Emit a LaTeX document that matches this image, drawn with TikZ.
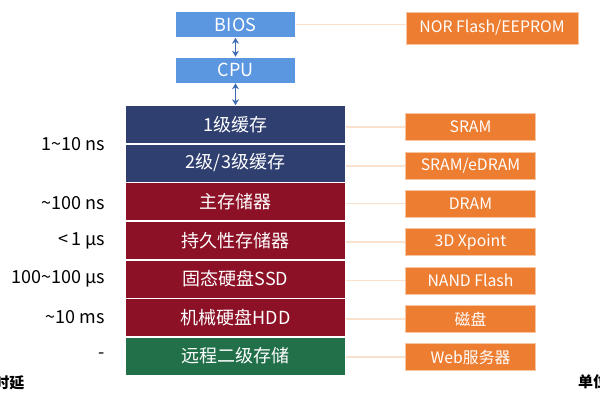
\documentclass[tikz,border=0pt]{standalone}
\usepackage{fontspec}
\setmainfont{Noto Sans CJK SC}
\usepackage{tikz}
\usetikzlibrary{positioning,calc,arrows.meta}
\definecolor{chipblue}{HTML}{5B97E1}
\definecolor{arrowblue}{HTML}{3E6DB5}
\definecolor{cachenavy}{HTML}{2F3F70}
\definecolor{memred}{HTML}{8C1126}
\definecolor{remotegreen}{HTML}{22704A}
\definecolor{techorange}{HTML}{ED7D31}
\definecolor{linkpeach}{HTML}{FBE0CC}

\begin{document}
\begin{tikzpicture}[
    x=1pt, y=-1pt,
    >={Stealth[length=6pt,width=7pt]},
    font=\fontsize{18}{21}\selectfont,
    chip/.style={
        fill=chipblue,
        draw=white,
        line width=0.6pt,
        minimum width=120pt,
        minimum height=26pt,
        inner sep=0pt,
        text=white
    },
    level/.style={
        draw=white,
        line width=0.6pt,
        minimum width=220pt,
        minimum height=38pt,
        inner sep=0pt,
        text=white
    },
    tech/.style={
        fill=techorange,
        draw=techorange!45!white,
        line width=0.8pt,
        minimum width=130pt,
        minimum height=27pt,
        inner sep=0pt,
        text=white,
        font=\fontsize{15.8}{18}\selectfont
    },
    lat/.style={anchor=east, inner sep=0pt},
    link/.style={draw=linkpeach, line width=1.5pt},
    arr/.style={<->, draw=arrowblue, line width=1.8pt}
]
\useasboundingbox (0,0) rectangle (600,400);

\node[chip] (bios) at (235.5,24.5) {BIOS};
\node[chip] (cpu) at (235.5,70) {CPU};

% memory stack
\node[level, fill=cachenavy] (l1) at (235.5,124.5) {1级缓存};
\node[level, fill=cachenavy] (l2) at (235.5,163) {2级/3级缓存};
\node[level, fill=memred] (dram) at (235.5,201.7) {主存储器};
\node[level, fill=memred] (pmem) at (235.5,240.3) {持久性存储器};
\node[level, fill=memred] (ssd) at (235.5,278.9) {固态硬盘SSD};
\node[level, fill=memred] (hdd) at (235.5,317.5) {机械硬盘HDD};
\node[level, fill=remotegreen] (remote) at (235.5,356.1) {远程二级存储};

\draw[arr] (bios.south) -- (cpu.north);
\draw[arr] (cpu.south) -- (l1.north);

% technologies
\node[tech, minimum width=172pt, minimum height=32pt] (nor) at (492,28) {NOR Flash/EEPROM};
\node[tech] (sram) at (470.5,127) {SRAM};
\node[tech] (edram) at (470.5,166) {SRAM/eDRAM};
\node[tech] (dramtech) at (470.5,203.5) {DRAM};
\node[tech] (xpoint) at (470.5,242) {3D Xpoint};
\node[tech] (nand) at (470.5,280.5) {NAND Flash};
\node[tech] (disk) at (470.5,319) {磁盘};
\node[tech] (web) at (470.5,357) {Web服务器};

\draw[link] (bios.east) -- (bios.east -| nor.west);
\draw[link] (sram.west -| l1.east) -- (sram.west);
\draw[link] (edram.west -| l2.east) -- (edram.west);
\draw[link] (dramtech.west -| dram.east) -- (dramtech.west);
\draw[link] (xpoint.west -| pmem.east) -- (xpoint.west);
\draw[link] (nand.west -| ssd.east) -- (nand.west);
\draw[link] (disk.west -| hdd.east) -- (disk.west);
\draw[link] (web.west -| remote.east) -- (web.west);

% latencies
\node[lat] (lat1) at (105,144) {1\textasciitilde10 ns};
\node[lat] (lat2) at (105,203) {\textasciitilde100 ns};
\node[lat] (lat3) at (105,241) {<\,1 µs};
\node[lat] (lat4) at (105,279) {100\textasciitilde100 µs};
\node[lat] (lat5) at (105,317) {\textasciitilde10 ms};
\node[lat] (lat6) at (105,356) {-};

\node[anchor=east, inner sep=0pt, font=\fontsize{15}{18}\selectfont\bfseries] (latcap) at (24.5,383) {时延};
\node[anchor=west, inner sep=0pt, font=\fontsize{15}{18}\selectfont\bfseries] (unitcap) at (578,382) {单位};
\end{tikzpicture}
\end{document}
